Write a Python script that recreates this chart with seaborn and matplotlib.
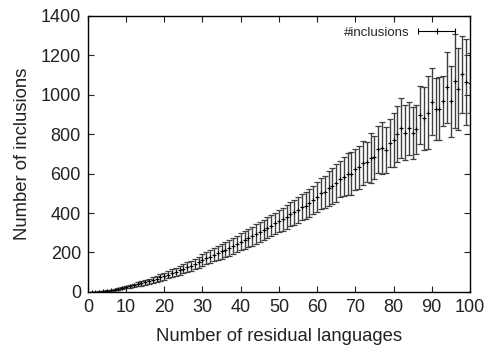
import matplotlib
matplotlib.use("Agg")
import matplotlib.pyplot as plt
from matplotlib.lines import Line2D
from matplotlib.legend_handler import HandlerLine2D, HandlerTuple
import seaborn as sns
import pandas as pd

residual = list(range(1, 101))
inclusions = [
    0, 0.5, 1.5, 3, 5, 8, 11, 15, 19, 24,
    28, 33, 38, 43, 48, 54, 60, 66, 73, 80,
    87, 94, 101, 109, 117, 125, 133, 142, 151, 160,
    170, 178, 188, 196, 205, 214, 223, 233, 243, 254,
    262, 272, 282, 293, 303, 315, 325, 336, 347, 358,
    368, 380, 393, 403, 415, 428, 438, 452, 466, 480,
    500, 508, 525, 537, 553, 572, 584, 598, 600, 621,
    632, 655, 660, 677, 682, 723, 730, 719, 754, 770,
    801, 830, 807, 830, 807, 825, 897, 880, 908, 965,
    926, 928, 968, 1038, 968, 1070, 1028, 1105, 1065, 1062,
]
errors = [
    0.5, 1, 1.5, 2, 3, 3.5, 4, 5, 6, 7,
    8, 9, 10, 11, 12, 13, 14, 15, 17, 18,
    19, 20, 21, 22, 23, 24, 25, 27, 28, 30,
    31, 32, 33, 35, 36, 37, 39, 40, 42, 44,
    45, 46, 48, 49, 50, 52, 53, 54, 55, 56,
    58, 59, 61, 62, 64, 66, 68, 70, 72, 75,
    80, 82, 89, 90, 95, 92, 100, 106, 108, 102,
    108, 112, 102, 127, 110, 120, 131, 115, 123, 136,
    143, 153, 140, 134, 133, 123, 148, 158, 185, 169,
    157, 160, 128, 180, 180, 240, 208, 195, 218, 152,
]
x_ticks = [0, 10, 20, 30, 40, 50, 60, 70, 80, 90, 100]
y_ticks = [0, 200, 400, 600, 800, 1000, 1200, 1400]

df = pd.DataFrame({"residual": residual, "inclusions": inclusions, "err": errors})

sns.set_style("ticks")
plt.rcParams["font.family"] = ["Liberation Sans", "DejaVu Sans"]

fig = plt.figure(figsize=(4.88, 3.47), dpi=100)
ax = fig.add_axes([0.180, 0.159, 0.783, 0.795])

ax.errorbar(df["residual"], df["inclusions"], yerr=df["err"], fmt="none",
            ecolor="#404040", elinewidth=1.0, capsize=2.2, capthick=0.9, zorder=2)
sns.scatterplot(data=df, x="residual", y="inclusions", marker="+", color="black",
                s=12, linewidth=0.8, ax=ax, zorder=3, legend=False)

ax.set_xlim(0, 100)
ax.set_ylim(0, 1400)
ax.set_xticks(x_ticks)
ax.set_yticks(y_ticks)
ax.tick_params(direction="in", length=4, width=0.8, top=True, right=True,
               labelsize=13, colors="#222222", pad=5)
for s in ax.spines.values():
    s.set_linewidth(1.0)
    s.set_color("black")
    s.set_visible(True)

ax.set_xlabel("Number of residual languages", fontsize=13.3, labelpad=9, color="#222222")
ax.set_ylabel("Number of inclusions", fontsize=13.3, labelpad=7, color="#222222")

h_line = Line2D([], [], color="black", lw=0.8, marker="|", markersize=5, markeredgewidth=0.8)
h_mark = Line2D([], [], color="black", ls="none", marker="+", markersize=4, markeredgewidth=0.8)
ax.legend([(h_line, h_mark)], ["#inclusions"], loc="upper right",
          handler_map={h_line: HandlerLine2D(numpoints=2), h_mark: HandlerLine2D(numpoints=1),
                       tuple: HandlerTuple(ndivide=1)},
          markerfirst=False, frameon=False, fontsize=9.5, handlelength=3.4,
          borderaxespad=0.6, handletextpad=0.4, borderpad=0.2)

fig.savefig("out.png", dpi=100)
